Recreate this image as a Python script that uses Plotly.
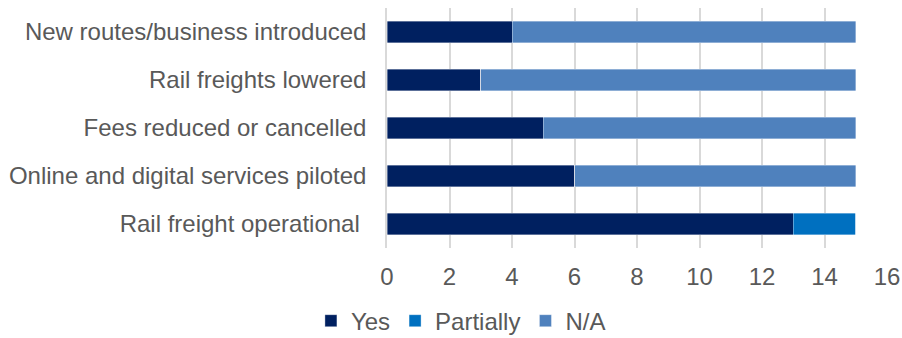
import plotly.graph_objects as go

# Categories listed top to bottom
categories = [
    "New routes/business introduced",
    "Rail freights lowered",
    "Fees reduced or cancelled",
    "Online and digital services piloted",
    "Rail freight operational\u00a0",
]
yes_vals = [4, 3, 5, 6, 13]
partially_vals = [0, 0, 0, 0, 2]
na_vals = [11, 12, 10, 9, 0]
x_ticks = [0, 2, 4, 6, 8, 10, 12, 14, 16]

font_family = "Liberation Sans, Arial, sans-serif"
text_color = "#595959"

fig = go.Figure()
for name, vals, color in [
    ("Yes", yes_vals, "#002060"),
    ("Partially", partially_vals, "#0070C0"),
    ("N/A", na_vals, "#4F81BD"),
]:
    fig.add_trace(go.Bar(
        y=categories, x=vals, name=name, orientation="h",
        marker=dict(color=color, line=dict(color="rgba(255,255,255,0.6)", width=0.6)),
    ))

fig.update_layout(
    barmode="stack",
    bargap=0.56,
    width=902, height=338,
    margin=dict(l=387, r=15, t=8, b=90),
    paper_bgcolor="white", plot_bgcolor="white",
    font=dict(family=font_family, size=24, color=text_color),
    showlegend=True,
    legend=dict(
        orientation="h", xref="container", x=0.511, xanchor="center",
        yref="container", y=0.05, yanchor="middle",
        font=dict(size=24, color=text_color), traceorder="normal",
        itemwidth=30, tracegroupgap=0,
    ),
    xaxis=dict(
        range=[0, 16], tickvals=x_ticks, showgrid=True, gridcolor="#D9D9D9",
        gridwidth=1.5, zeroline=False, showline=False, ticks="",
        tickfont=dict(size=24, color=text_color), ticklabelstandoff=12,
        automargin=False,
    ),
    yaxis=dict(
        autorange="reversed", showgrid=False, showline=True, linecolor="#D9D9D9",
        linewidth=1.5, ticks="", tickfont=dict(size=24, color=text_color),
        ticklabelstandoff=14, automargin=False,
    ),
)

fig.write_html("out.html")
